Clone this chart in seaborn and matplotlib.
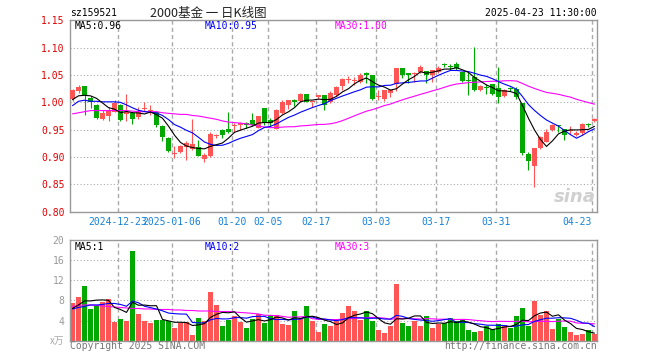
import numpy as np
import pandas as pd
import matplotlib
matplotlib.use("Agg")
import matplotlib.pyplot as plt
import seaborn as sns

# sz159521 daily bars, 2024-12-11 .. 2025-04-23 (88 sessions)
opens = [1.006, 1.021, 1.030, 1.008, 0.995, 0.970, 0.976, 0.983, 0.995, 0.979,
         0.980, 0.973, 0.988, 0.985, 0.983, 0.957, 0.934, 0.906, 0.909, 0.919,
         0.915, 0.919, 0.896, 0.901, 0.938, 0.949, 0.951, 0.956, 0.958, 0.962,
         0.968, 0.954, 0.989, 0.968, 0.952, 0.980, 0.995, 1.004, 1.002, 1.015,
         1.000, 1.009, 1.013, 1.001, 1.014, 1.030, 1.041, 1.039, 1.038, 1.053,
         1.050, 1.009, 1.007, 1.018, 1.034, 1.063, 1.053, 1.052, 1.056, 1.057,
         1.050, 1.056, 1.070, 1.067, 1.071, 1.056, 1.040, 1.047, 1.023, 1.028,
         1.033, 1.026, 1.012, 1.025, 1.024, 0.999, 0.906, 0.884, 0.916, 0.928,
         0.949, 0.957, 0.951, 0.948, 0.940, 0.944, 0.960, 0.966]
closes = [1.023, 1.029, 1.013, 1.000, 0.972, 0.981, 0.986, 0.999, 0.968, 0.983,
          0.970, 0.983, 0.990, 0.986, 0.959, 0.937, 0.911, 0.907, 0.920, 0.925,
          0.924, 0.902, 0.904, 0.943, 0.940, 0.940, 0.946, 0.957, 0.963, 0.958,
          0.958, 0.975, 0.962, 0.962, 0.986, 1.000, 1.004, 1.000, 1.015, 1.001,
          1.001, 1.013, 0.995, 1.018, 1.028, 1.042, 1.042, 1.040, 1.050, 1.050,
          1.007, 1.011, 1.022, 1.022, 1.063, 1.050, 1.050, 1.053, 1.064, 1.050,
          1.059, 1.063, 1.069, 1.064, 1.062, 1.040, 1.039, 1.023, 1.030, 1.027,
          1.016, 1.010, 1.022, 1.024, 1.009, 0.907, 0.892, 0.916, 0.937, 0.945,
          0.958, 0.956, 0.941, 0.949, 0.944, 0.960, 0.959, 0.969]
highs = [1.025, 1.031, 1.030, 1.012, 0.997, 0.986, 0.992, 1.004, 0.997, 1.015,
         0.983, 0.992, 1.000, 0.995, 0.985, 0.959, 0.937, 0.920, 0.922, 0.930,
         0.970, 0.931, 0.907, 0.945, 0.943, 0.952, 0.983, 0.963, 0.965, 0.964,
         0.980, 0.976, 0.989, 0.971, 0.987, 1.004, 1.004, 1.007, 1.018, 1.015,
         1.001, 1.014, 1.013, 1.020, 1.030, 1.044, 1.048, 1.047, 1.053, 1.055,
         1.050, 1.022, 1.022, 1.025, 1.063, 1.063, 1.053, 1.055, 1.068, 1.057,
         1.060, 1.066, 1.072, 1.070, 1.074, 1.056, 1.056, 1.102, 1.032, 1.034,
         1.034, 1.065, 1.024, 1.028, 1.029, 0.999, 0.910, 0.917, 0.938, 0.951,
         0.960, 0.959, 0.952, 0.957, 0.948, 0.962, 0.963, 0.971]
lows = [1.003, 1.018, 0.977, 0.990, 0.970, 0.968, 0.966, 0.982, 0.966, 0.966,
        0.960, 0.970, 0.984, 0.977, 0.955, 0.930, 0.910, 0.899, 0.907, 0.895,
        0.913, 0.901, 0.891, 0.900, 0.934, 0.934, 0.944, 0.946, 0.949, 0.954,
        0.957, 0.953, 0.959, 0.957, 0.951, 0.979, 0.987, 0.994, 1.001, 1.000,
        0.992, 1.006, 0.986, 0.998, 1.012, 1.022, 1.035, 1.032, 1.035, 1.035,
        1.004, 1.004, 1.002, 1.010, 1.020, 1.044, 1.036, 1.038, 1.053, 1.035,
        1.038, 1.054, 1.064, 1.060, 1.060, 1.038, 1.013, 1.020, 1.020, 1.015,
        1.013, 0.999, 1.009, 1.020, 1.007, 0.904, 0.876, 0.846, 0.915, 0.927,
        0.948, 0.946, 0.932, 0.942, 0.939, 0.940, 0.955, 0.965]
# volume, unit 万
volumes = [7.5, 8.7, 10.9, 6.3, 6.9, 7.7, 8.3, 3.8, 4.3, 4.0,
           17.8, 5.3, 4.0, 3.6, 4.1, 4.1, 3.9, 2.6, 3.6, 3.8,
           1.2, 4.5, 3.9, 9.7, 7.0, 3.0, 4.1, 4.9, 3.8, 2.6,
           4.3, 5.3, 3.6, 5.1, 5.2, 3.4, 3.2, 5.9, 4.4, 6.8,
           4.0, 1.8, 3.4, 3.0, 3.9, 5.6, 6.9, 5.9, 4.2, 5.9,
           3.9, 2.1, 1.6, 2.9, 11.3, 3.6, 2.9, 3.9, 2.9, 4.9,
           2.5, 3.4, 3.6, 4.5, 4.0, 4.2, 2.1, 1.7, 1.9, 3.0,
           2.3, 3.3, 3.1, 2.5, 5.0, 6.5, 2.9, 7.9, 5.2, 5.9,
           2.4, 4.3, 2.7, 1.7, 1.1, 1.3, 2.1, 1.3]

# first MA points need sessions before the window ->
ma5_head = [1.005, 1.012, 1.013, 1.012]
ma10_head = [0.994, 1.002, 1.004, 1.002, 1.002, 1.001, 1.001, 1.001, 1.000]
ma30_head = [0.979, 0.981, 0.983, 0.985, 0.985, 0.985, 0.985, 0.985, 0.985, 0.985,
             0.984, 0.983, 0.983, 0.983, 0.983, 0.981, 0.980, 0.979, 0.978, 0.978,
             0.976, 0.975, 0.973, 0.971, 0.969, 0.966, 0.964, 0.963, 0.962]
vma5_head = [6.4, 7.1, 7.9, 7.9]
vma10_head = [6.3, 6.6, 6.8, 7.1, 7.1, 7.2, 7.4, 7.4, 7.2]
vma30_head = [6.8, 7.0, 7.1, 7.1, 7.0, 6.9, 6.8, 6.7, 6.6, 6.5,
              6.4, 6.4, 6.3, 6.3, 6.2, 6.2, 6.2, 6.1, 6.1, 6.0,
              6.0, 5.9, 5.9, 5.9, 5.8, 5.8, 5.8, 5.7, 5.6]

tick_pos = [8, 17, 27, 33, 41, 51, 61, 71, 87]
tick_labels = ["2024-12-23", "2025-01-06", "01-20", "02-05", "02-17",
               "03-03", "03-17", "03-31", "04-23"]

RED = "#ff5555"
GREEN = "#00a800"
GRID = "#aaaaaa"
MONO = "DejaVu Sans Mono"
CJK = ["Noto Sans CJK SC", "DejaVu Sans"]

df = pd.DataFrame({"open": opens, "close": closes, "high": highs,
                   "low": lows, "vol": volumes})
df["x"] = np.arange(len(df))


def moving_avg(s, n, head):
    ma = s.rolling(n).mean()
    ma.iloc[:n - 1] = head
    return ma


df["ma5"] = moving_avg(df["close"], 5, ma5_head)
df["ma10"] = moving_avg(df["close"], 10, ma10_head)
df["ma30"] = moving_avg(df["close"], 30, ma30_head)
df["vma5"] = moving_avg(df["vol"], 5, vma5_head)
df["vma10"] = moving_avg(df["vol"], 10, vma10_head)
df["vma30"] = moving_avg(df["vol"], 30, vma30_head)

sns.set_theme(style="white")
plt.rcParams["font.family"] = [MONO, "DejaVu Sans"]

W, H = 660, 360
fig = plt.figure(figsize=(6.6, 3.6), dpi=100)
fig.patch.set_facecolor("white")
ax = fig.add_axes([70 / W, 1 - 211.7 / H, 527 / W, 191.3 / H])
axv = fig.add_axes([70 / W, 1 - 340.7 / H, 527 / W, 100.7 / H])

colors = np.where(df["close"] >= df["open"], RED, GREEN)
grid_x = [p - 0.4 for p in tick_pos]

# candles
ax.vlines(df["x"], df["low"], df["high"], colors=colors, lw=0.8, zorder=2)
body = (df["close"] - df["open"]).abs().clip(lower=0.0018)
ax.bar(df["x"], body, bottom=df[["open", "close"]].min(axis=1),
       width=0.78, color=colors, linewidth=0, zorder=3)
for col, c in [("ma30", "#ff00ff"), ("ma10", "#0000ff"), ("ma5", "black")]:
    sns.lineplot(x=df["x"], y=df[col], ax=ax, color=c, lw=0.8, legend=False, zorder=4)

# volume
axv.bar(df["x"], df["vol"], width=0.82, color=colors, linewidth=0, zorder=2)
for col, c in [("vma30", "#ff00ff"), ("vma10", "#0000ff"), ("vma5", "black")]:
    sns.lineplot(x=df["x"], y=df[col], ax=axv, color=c, lw=0.8, legend=False, zorder=4)

for a in (ax, axv):
    a.set_xlim(-0.417, 87.42)
    a.set_xlabel("")
    a.set_ylabel("")
    a.set_xticks(grid_x)
    a.set_axisbelow(True)
    a.xaxis.grid(True, linestyle=(0, (3, 2.2)), color=GRID, lw=1)
    a.yaxis.grid(True, linestyle=(0, (1, 2)), color=GRID, lw=0.8)
    for sp in a.spines.values():
        sp.set_color("#999999")
        sp.set_linewidth(1)

ax.set_ylim(0.80, 1.15)
ax.set_yticks(np.arange(0.80, 1.151, 0.05))
ax.set_yticklabels([f"{v:.2f}" for v in np.arange(0.80, 1.151, 0.05)])
ax.tick_params(axis="y", length=0, pad=4, labelcolor="#e00000", labelsize=7)
ax.set_xticklabels(tick_labels)
ax.tick_params(axis="x", length=0, pad=4, labelcolor="#1582d8", labelsize=7)
ax.get_xticklabels()[-1].set_ha("right")

axv.set_ylim(0, 20)
axv.set_yticks([0, 4, 8, 12, 16, 20])
axv.set_yticklabels(["", "4", "8", "12", "16", "20"])
axv.set_xticklabels([])
axv.tick_params(axis="y", length=0, pad=4, labelcolor="#999999", labelsize=7)
axv.tick_params(axis="x", length=0)


def ftext(x, y, s, **kw):
    kw.setdefault("fontsize", 7)
    kw.setdefault("va", "center")
    fig.text(x / W, 1 - y / H, s, **kw)


ftext(70, 13.3, "sz159521", color="black")
ftext(150, 13.3, "2000基金 一 日K线图", family=CJK, fontsize=9, color="#222222")
ftext(597, 13.3, "2025-04-23 11:30:00", ha="right", color="black")

ftext(75, 26, f"MA5:{df['ma5'].iloc[-1]:.2f}", color="black")
ftext(205, 26, f"MA10:{df['ma10'].iloc[-1]:.2f}", color="#0000ff")
ftext(335, 26, f"MA30:{df['ma30'].iloc[-1]:.2f}", color="#ff00ff")

ftext(75, 246.7, f"MA5:{int(df['vma5'].iloc[-1])}", color="black")
ftext(205, 246.7, f"MA10:{int(df['vma10'].iloc[-1])}", color="#0000ff")
ftext(335, 246.7, f"MA30:{int(df['vma30'].iloc[-1])}", color="#ff00ff")

ftext(64, 341, "x万", ha="right", family=CJK, fontsize=7, color="#aaaaaa")
ftext(70, 345.7, "Copyright 2025 SINA.COM", color="#777777")
ftext(597, 345.7, "http://finance.sina.com.cn", ha="right", color="#777777")
ftext(596, 197, "sina", ha="right", fontsize=13, color="#d0d0d0",
      style="italic", weight="bold", family="DejaVu Sans")

fig.savefig("out.png", dpi=100, facecolor="white")
